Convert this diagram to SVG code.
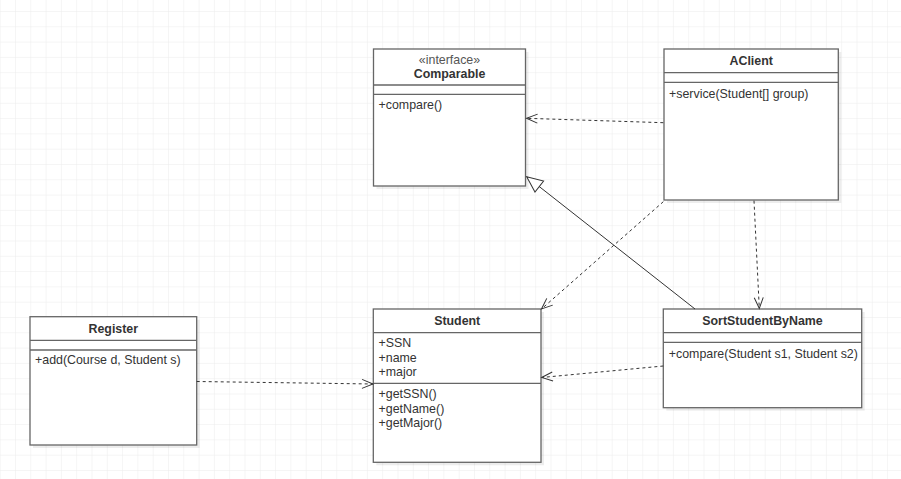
<svg xmlns="http://www.w3.org/2000/svg" width="901" height="479" viewBox="0 0 901 479">
<defs>
<pattern id="grid" patternUnits="userSpaceOnUse" x="-0.3" y="-4.3" width="15.3" height="15.3">
<path d="M 15.3 0 L 0 0 0 15.3" fill="none" stroke="#ebebeb" stroke-width="1"/>
</pattern>
<marker id="open" markerUnits="userSpaceOnUse" markerWidth="14" markerHeight="12" refX="12" refY="6" orient="auto" overflow="visible">
<path d="M 1 1.5 L 12 6 L 1 10.5" fill="none" stroke="#333" stroke-width="1"/>
</marker>
<marker id="tri" markerUnits="userSpaceOnUse" markerWidth="18" markerHeight="18" refX="17" refY="8" orient="auto" overflow="visible">
<path d="M 1 1 L 17 8 L 1 15 Z" fill="#fff" stroke="#333" stroke-width="1"/>
</marker>
</defs>
<style>
.box{fill:#fff;stroke:#666;stroke-width:1.3}
.shadow{fill:#000;opacity:0.07}
.div{stroke:#666;stroke-width:1.3}
.t{font-family:"Liberation Sans",Arial,sans-serif;font-size:12.4px;fill:#333}
.b{font-weight:bold;text-anchor:middle}
.c{text-anchor:middle}
.dash{fill:none;stroke:#333;stroke-width:1;stroke-dasharray:3 3;marker-end:url(#open)}
.solid{fill:none;stroke:#333;stroke-width:1;marker-end:url(#tri)}
</style>
<rect width="901" height="479" fill="#fff"/>
<rect width="901" height="479" fill="url(#grid)"/>

<g id="Comparable">
<rect class="shadow" x="376.5" y="52" width="152" height="137"/>
<rect class="box" x="373.5" y="49" width="152" height="137"/>
<line class="div" x1="373.5" y1="85" x2="525.5" y2="85"/>
<line class="div" x1="373.5" y1="94.3" x2="525.5" y2="94.3"/>
<text class="t c" x="449.5" y="64.3" fill="#555" style="fill:#555">«interface»</text>
<text class="t b" x="449.5" y="77.6">Comparable</text>
<text class="t" x="378.5" y="109.3">+compare()</text>
</g>

<g id="AClient">
<rect class="shadow" x="667" y="52" width="174.3" height="151"/>
<rect class="box" x="664" y="49" width="174.3" height="151"/>
<line class="div" x1="664" y1="72.7" x2="838.3" y2="72.7"/>
<line class="div" x1="664" y1="82.3" x2="838.3" y2="82.3"/>
<text class="t b" x="751.2" y="65.3">AClient</text>
<text class="t" x="669" y="97.6">+service(Student[] group)</text>
</g>

<g id="Register">
<rect class="shadow" x="33" y="319.7" width="166.7" height="128.3"/>
<rect class="box" x="30" y="316.7" width="166.7" height="128.3"/>
<line class="div" x1="30" y1="340.3" x2="196.7" y2="340.3"/>
<line class="div" x1="30" y1="350" x2="196.7" y2="350"/>
<text class="t b" x="113.3" y="332.6">Register</text>
<text class="t" x="35" y="364.3">+add(Course d, Student s)</text>
</g>

<g id="Student">
<rect class="shadow" x="376.3" y="312" width="167.7" height="153.3"/>
<rect class="box" x="373.3" y="309" width="167.7" height="153.3"/>
<line class="div" x1="373.3" y1="332.7" x2="541" y2="332.7"/>
<line class="div" x1="373.3" y1="383.3" x2="541" y2="383.3"/>
<text class="t b" x="457.2" y="325">Student</text>
<text class="t" x="378.5" y="347">+SSN</text>
<text class="t" x="378.5" y="361.6">+name</text>
<text class="t" x="378.5" y="376">+major</text>
<text class="t" x="378.5" y="398.3">+getSSN()</text>
<text class="t" x="378.5" y="412.6">+getName()</text>
<text class="t" x="378.5" y="427">+getMajor()</text>
</g>

<g id="SortStudentByName">
<rect class="shadow" x="666.3" y="312" width="198.4" height="98.7"/>
<rect class="box" x="663.3" y="309" width="198.4" height="98.7"/>
<line class="div" x1="663.3" y1="332.7" x2="861.7" y2="332.7"/>
<line class="div" x1="663.3" y1="342.3" x2="861.7" y2="342.3"/>
<text class="t b" x="762.5" y="325">SortStudentByName</text>
<text class="t" x="668.8" y="357.6">+compare(Student s1, Student s2)</text>
</g>

<g id="connectors">
<path class="dash" d="M 663.3 122.7 L 526.5 118.3"/>
<path class="solid" d="M 695 309 L 526.7 176.7"/>
<path class="dash" d="M 663.3 201.7 L 541.5 309"/>
<path class="dash" d="M 754 200.7 L 759.3 308.5"/>
<path class="dash" d="M 663.3 366 L 541.7 377.5"/>
<path class="dash" d="M 196.7 381.5 L 373 384"/>
</g>
</svg>
